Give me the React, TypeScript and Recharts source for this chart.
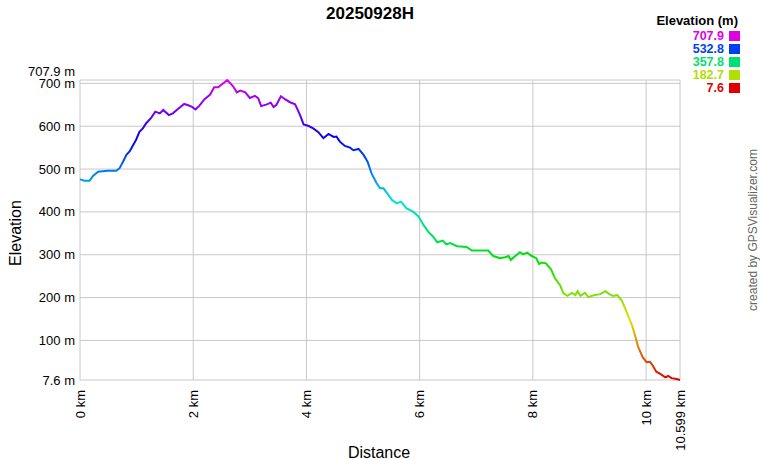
import React from "react";
import {
  CartesianGrid,
  Line,
  LineChart,
  XAxis,
  YAxis,
} from "recharts";

const distanceKm = [
  0, 0.08, 0.17, 0.23, 0.32, 0.49, 0.64, 0.7, 0.76, 0.82, 0.88, 0.94, 0.99,
  1.05, 1.11, 1.17, 1.26, 1.33, 1.41, 1.47, 1.57, 1.64, 1.73, 1.84, 1.91,
  1.98, 2.04, 2.11, 2.2, 2.3, 2.37, 2.44, 2.51, 2.6, 2.65, 2.71, 2.77, 2.83,
  2.92, 3.0, 3.09, 3.15, 3.2, 3.3, 3.37, 3.42, 3.47, 3.55, 3.62, 3.71, 3.8,
  3.86, 3.9, 3.95, 4.03, 4.12, 4.21, 4.3, 4.39, 4.48, 4.53, 4.59, 4.68, 4.77,
  4.83, 4.92, 5.01, 5.08, 5.15, 5.24, 5.3, 5.36, 5.45, 5.51, 5.6, 5.67, 5.77,
  5.89, 5.98, 6.07, 6.15, 6.24, 6.31, 6.41, 6.47, 6.54, 6.66, 6.83, 6.92,
  7.07, 7.21, 7.3, 7.42, 7.51, 7.57, 7.61, 7.69, 7.77, 7.83, 7.9, 7.98, 8.06,
  8.11, 8.16, 8.23, 8.32, 8.39, 8.48, 8.54, 8.61, 8.69, 8.75, 8.79, 8.84,
  8.92, 8.98, 9.04, 9.1, 9.19, 9.28, 9.35, 9.42, 9.49, 9.57, 9.63, 9.69, 9.75,
  9.81, 9.86, 9.94, 10.01, 10.07, 10.12, 10.18, 10.25, 10.34, 10.39, 10.45,
  10.54, 10.599,
];

const elevationM = [
  476, 473, 473, 484, 494, 496, 496, 502, 517, 533, 542, 556, 568, 587, 595,
  607, 620, 634, 630, 638, 626, 630, 640, 652, 649, 645, 639, 648, 663, 674,
  691, 691, 698, 707.9, 701, 692, 679, 683, 679, 666, 671, 665, 647, 651, 655,
  645, 650, 670, 663, 656, 651, 634, 622, 604, 601, 595, 586, 572, 582, 575,
  576, 564, 554, 550, 544, 547, 533, 517, 490, 467, 455, 455, 439, 428, 420,
  424, 408, 400, 389, 369, 354, 342, 329, 333, 324, 327, 320, 318, 310, 310,
  310, 297, 292, 294, 297, 288, 297, 306, 301, 305, 297, 292, 278, 282, 280,
  266, 245, 229, 210, 204, 211, 206, 215, 204, 211, 201, 204, 206, 208, 215,
  208, 204, 206, 193, 175, 155, 136, 109, 85, 61, 49, 50, 41, 27, 22, 14, 17,
  12, 10, 7.6,
];

const elevTicks = [7.6, 100, 200, 300, 400, 500, 600, 700, 707.9];
const distTicks = [0, 2, 4, 6, 8, 10, 10.599];

const legendValues = ["707.9", "532.8", "357.8", "182.7", "7.6"];
const legendColors = ["#e000e0", "#0040f0", "#00e070", "#b0e000", "#e00000"];

const data = distanceKm.map((d, i) => ({ dist: d, elev: elevationM[i] }));

const font = "Arial, 'Liberation Sans', sans-serif";

function ElevTick(props: any) {
  const { x, y, payload } = props;
  const isTop = payload.value === 707.9;
  return (
    <text
      x={x}
      y={isTop ? y - 9 : y}
      textAnchor="end"
      dominantBaseline="central"
      fontSize={13}
      fontFamily={font}
      fill="#000"
    >
      {`${payload.value} m`}
    </text>
  );
}

function DistTick(props: any) {
  const { x, y, payload } = props;
  const ty = y + 2;
  return (
    <text
      x={x}
      y={ty}
      transform={`rotate(-90, ${x}, ${ty})`}
      textAnchor="end"
      dominantBaseline="central"
      fontSize={13}
      fontFamily={font}
      fill="#000"
    >
      {`${payload.value} km`}
    </text>
  );
}

export default function App() {
  return (
    <div
      style={{
        position: "absolute",
        left: 0,
        top: 0,
        width: 760,
        height: 460,
        background: "#fff",
      }}
    >
      <LineChart
        width={760}
        height={460}
        data={data}
        margin={{ top: 80, right: 80, bottom: 0, left: 0 }}
      >
        <defs>
          <linearGradient id="elevGrad" x1="0" y1="1" x2="0" y2="0">
            <stop offset="0%" stopColor="hsl(0,100%,44%)" />
            <stop offset="10%" stopColor="hsl(30,100%,44%)" />
            <stop offset="20%" stopColor="hsl(60,100%,44%)" />
            <stop offset="30%" stopColor="hsl(90,100%,44%)" />
            <stop offset="40%" stopColor="hsl(120,100%,44%)" />
            <stop offset="50%" stopColor="hsl(150,100%,44%)" />
            <stop offset="60%" stopColor="hsl(180,100%,44%)" />
            <stop offset="70%" stopColor="hsl(210,100%,47%)" />
            <stop offset="80%" stopColor="hsl(240,100%,47%)" />
            <stop offset="90%" stopColor="hsl(270,100%,47%)" />
            <stop offset="100%" stopColor="hsl(300,100%,44%)" />
          </linearGradient>
        </defs>
        <CartesianGrid stroke="#c8c8c8" strokeWidth={1} />
        <XAxis
          dataKey="dist"
          type="number"
          domain={[0, 10.599]}
          ticks={distTicks}
          interval={0}
          height={80}
          axisLine={false}
          tickLine={false}
          tick={<DistTick />}
        />
        <YAxis
          type="number"
          domain={[7.6, 707.9]}
          ticks={elevTicks}
          interval={0}
          width={80}
          axisLine={false}
          tickLine={false}
          tickSize={0}
          tickMargin={5}
          tick={<ElevTick />}
        />
        <Line
          dataKey="elev"
          type="linear"
          stroke="url(#elevGrad)"
          strokeWidth={2}
          dot={false}
          isAnimationActive={false}
        />
      </LineChart>
      <svg
        width={760}
        height={460}
        style={{ position: "absolute", left: 0, top: 0, pointerEvents: "none" }}
        fontFamily={font}
      >
        <text x={370} y={19} textAnchor="middle" fontSize={17} fontWeight="bold">
          20250928H
        </text>
        <text x={738} y={25} textAnchor="end" fontSize={13} fontWeight="bold">
          Elevation (m)
        </text>
        {legendValues.map((v, i) => (
          <g key={v}>
            <text
              x={724}
              y={36 + i * 13}
              textAnchor="end"
              dominantBaseline="central"
              fontSize={12.5}
              fontWeight="bold"
              fill={legendColors[i]}
            >
              {v}
            </text>
            <rect
              x={729}
              y={31 + i * 13}
              width={11}
              height={10}
              fill={legendColors[i]}
            />
          </g>
        ))}
        <text
          x={15}
          y={233}
          transform="rotate(-90, 15, 233)"
          textAnchor="middle"
          dominantBaseline="central"
          fontSize={16}
        >
          Elevation
        </text>
        <text x={379} y={458} textAnchor="middle" fontSize={16}>
          Distance
        </text>
        <text
          x={753}
          y={230}
          transform="rotate(-90, 753, 230)"
          textAnchor="middle"
          dominantBaseline="central"
          fontSize={12}
          fill="#666"
        >
          created by GPSVisualizer.com
        </text>
      </svg>
    </div>
  );
}
